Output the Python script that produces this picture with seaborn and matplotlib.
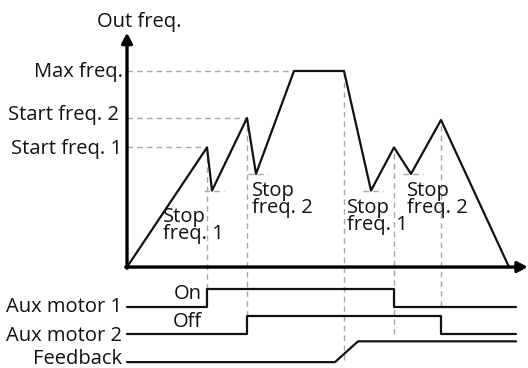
"""
Multi-motor control timing chart: output frequency vs. time with
aux motor on/off signals and the feedback signal below.
"""

import matplotlib
matplotlib.use("Agg")
import matplotlib.pyplot as plt
import pandas as pd
import seaborn as sns

# Output frequency curve (time, frequency as % of max freq.)
curve_time = [0, 20, 21.25, 30, 32.25, 41.75, 54.25, 61, 66.75, 71, 78.5, 95.5]
curve_freq = [0, 61, 39, 76, 47.5, 100, 100, 39, 61, 47.5, 75, 0]

# Reference levels on the frequency axis
level_names = ["Max freq.", "Start freq. 2", "Start freq. 1"]
level_values = [100, 76, 61]

# Aux motor signals (step, post) and feedback signal (ramp)
aux1_time = [0, 20, 66.75, 97.25]
aux1_state = [0, 1, 0, 0]
aux2_time = [0, 30, 78.5, 97.25]
aux2_state = [0, 1, 0, 0]
feedback_time = [0, 52, 57.75, 97.25]
feedback_state = [0, 0, 1, 1]

signal_names = ["Aux motor 1", "Aux motor 2", "Feedback"]
stop_names = ["Stop\nfreq. 1", "Stop\nfreq. 2", "Stop\nfreq. 1", "Stop\nfreq. 2"]

# Layout of the signal rows below the frequency axis
AUX1_BASE, AUX2_BASE, FB_BASE = -20.4, -34.2, -48.5
STEP_H, FB_H = 9.2, 10.6

INK = "#111111"
DASH = "#a8a8a8"
FS = 14.5


def main():
    sns.set_style("white")
    plt.rcParams["font.family"] = ["Open Sans", "DejaVu Sans"]

    fig = plt.figure(figsize=(5.28, 3.68), dpi=100)
    ax = fig.add_axes([0, 0, 1, 1])
    ax.set_xlim(-31.75, 100.25)
    ax.set_ylim(-51.5, 136.2)
    ax.axis("off")

    dash_kw = dict(color=DASH, lw=1.0, linestyles=(0, (4, 3)), zorder=1)

    # dashed guides for the reference levels
    max_i = curve_freq.index(level_values[0])
    ax.hlines(level_values[0], 0, curve_time[max_i], **dash_kw)
    ax.hlines(level_values[1], 0, curve_time[3], **dash_kw)
    ax.hlines(level_values[2], 0, curve_time[1], **dash_kw)

    # short dashes at the stop-frequency dips
    for i in [2, 4, 7, 9]:
        ax.hlines(curve_freq[i], curve_time[i] - 2, curve_time[i] + 3, **dash_kw)

    # vertical dashed guides from events to the signals
    ax.vlines(curve_time[1], AUX1_BASE + STEP_H, curve_freq[1], **dash_kw)
    ax.vlines(curve_time[3], AUX2_BASE + STEP_H, curve_freq[3], **dash_kw)
    ax.vlines(curve_time[6], FB_BASE + 1, curve_freq[6], **dash_kw)
    ax.vlines(curve_time[8], AUX2_BASE, curve_freq[8], **dash_kw)
    ax.vlines(curve_time[10], AUX1_BASE + 0.5, curve_freq[10], **dash_kw)

    # frequency curve
    df_curve = pd.DataFrame({"time": curve_time, "freq": curve_freq})
    sns.lineplot(data=df_curve, x="time", y="freq", ax=ax, sort=False,
                 estimator=None, color=INK, lw=1.6, zorder=3)

    # signals
    df_aux1 = pd.DataFrame({"time": aux1_time,
                            "y": [AUX1_BASE + STEP_H * s for s in aux1_state]})
    df_aux2 = pd.DataFrame({"time": aux2_time,
                            "y": [AUX2_BASE + STEP_H * s for s in aux2_state]})
    df_fb = pd.DataFrame({"time": feedback_time,
                          "y": [FB_BASE + FB_H * s for s in feedback_state]})
    for df, style in [(df_aux1, "steps-post"), (df_aux2, "steps-post"),
                      (df_fb, "default")]:
        sns.lineplot(data=df, x="time", y="y", ax=ax, sort=False,
                     estimator=None, color=INK, lw=1.6, drawstyle=style,
                     zorder=3)

    # axes with arrow heads
    arrow = dict(arrowstyle="-|>,head_length=0.6,head_width=0.32",
                 color="black", lw=2.4, shrinkA=0, shrinkB=0)
    ax.annotate("", xy=(0, 119.5), xytext=(0, -0.6), arrowprops=arrow)
    ax.annotate("", xy=(100.2, 0), xytext=(-0.3, 0), arrowprops=arrow)
    ax.set_xlabel("")
    ax.set_ylabel("")

    # texts
    ax.text(3, 122.4, "Out freq.", ha="center", va="baseline", fontsize=FS,
            color=INK)
    label_y = [96.9, 75, 57.7]
    label_x = [-1, -2, -1.25]
    for name, lx, ly in zip(level_names, label_x, label_y):
        ax.text(lx, ly, name, ha="right", va="baseline", fontsize=FS, color=INK)

    for name, ly in zip(signal_names, [-23, -37.8, -49.5]):
        ax.text(-1.25, ly, name, ha="right", va="baseline", fontsize=FS,
                color=INK)
    ax.text(18.75, -16.3, "On", ha="right", va="baseline", fontsize=FS,
            color=INK)
    ax.text(18.75, -30.6, "Off", ha="right", va="baseline", fontsize=FS,
            color=INK)

    # multi-line text: baseline is that of the last line
    stop_pos = [(9, 14.3), (31.25, 27.6), (55, 18.9), (70, 27.6)]
    for name, (sx, sy) in zip(stop_names, stop_pos):
        ax.text(sx, sy, name, ha="left", va="baseline", fontsize=FS,
                color=INK, linespacing=0.82)

    fig.savefig("out.png", dpi=100)


if __name__ == "__main__":
    main()
